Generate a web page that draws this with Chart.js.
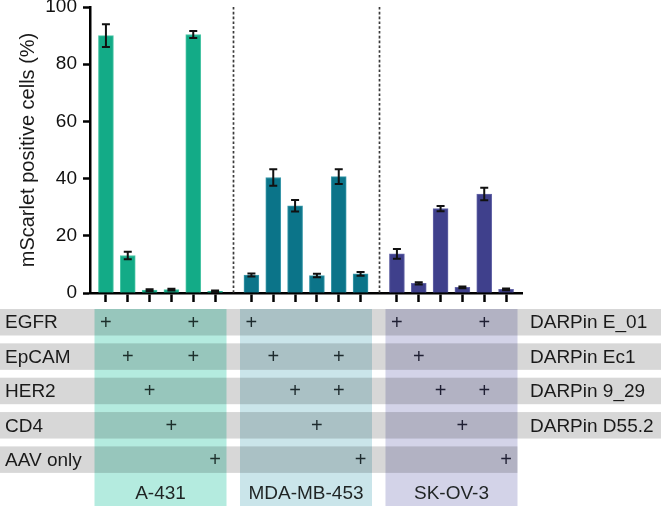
<!DOCTYPE html>
<html><head><meta charset="utf-8">
<script src="https://cdn.jsdelivr.net/npm/chart.js@4.4.1/dist/chart.umd.min.js"></script>
<style>html,body{margin:0;padding:0;background:#fff}#wrap{width:661px;height:506px;position:relative}</style>
</head><body><div id="wrap"><canvas id="c" width="661" height="506"></canvas></div>
<script>
// ---- data ----
const cellLines = ['A-431', 'MDA-MB-453', 'SK-OV-3'];
const targetLabels = ['EGFR', 'EpCAM', 'HER2', 'CD4', 'AAV only'];
const darpinLabels = ['DARPin E_01', 'DARPin Ec1', 'DARPin 9_29', 'DARPin D55.2'];
const yTicks = [0, 20, 40, 60, 80, 100];
const valuesA431 = [90.0, 13.1, 1.0, 1.2, 90.4, 0.6];
const errorsA431 = [4.0, 1.3, 0.3, 0.3, 1.2, 0.3];
const valuesMDA = [6.3, 40.4, 30.5, 6.1, 40.7, 6.7];
const errorsMDA = [0.5, 2.9, 2.0, 0.6, 2.6, 0.65];
const valuesSKOV = [13.7, 3.4, 29.5, 2.0, 34.6, 1.3];
const errorsSKOV = [1.7, 0.4, 0.9, 0.3, 2.2, 0.3];
// rows: EGFR, EpCAM, HER2, CD4, AAV only ; columns: the 6 bars of the group
const plusA431 = [[1,0,0,0,1,0],[0,1,0,0,1,0],[0,0,1,0,0,0],[0,0,0,1,0,0],[0,0,0,0,0,1]];
const plusMDA  = [[1,0,0,0,0,0],[0,1,0,0,1,0],[0,0,1,0,1,0],[0,0,0,1,0,0],[0,0,0,0,0,1]];
const plusSKOV = [[1,0,0,0,1,0],[0,1,0,0,0,0],[0,0,1,0,1,0],[0,0,0,1,0,0],[0,0,0,0,0,1]];

// ---- styling / layout ----
const STRIDE = 6.665;      // group offset in bar-slot units
const FONT = 'Liberation Sans, Arial, sans-serif';
const groups = [
  {values: valuesA431, errors: errorsA431, plus: plusA431, color: '#13ab87', border: '#4cc6a6', box: '#b4ebdf', plusColor: '#1d2f2b'},
  {values: valuesMDA,  errors: errorsMDA,  plus: plusMDA,  color: '#0b7489', border: '#3d9aab', box: '#cae5ea', plusColor: '#1d2a2d'},
  {values: valuesSKOV, errors: errorsSKOV, plus: plusSKOV, color: '#3f408c', border: '#6667a8', box: '#d3d3e8', plusColor: '#1f1f33'}
];
const positions = [];
groups.forEach((g, gi) => g.values.forEach((v, i) => positions.push(gi * STRIDE + i)));

const datasets = groups.map((g, gi) => ({
  label: cellLines[gi],
  data: g.values.map((v, i) => ({x: gi * STRIDE + i, y: v})),
  backgroundColor: g.color,
  borderColor: g.border,
  borderWidth: 1,
  barThickness: 15,
  grouped: false
}));

const ROW_TOP = 309, ROW_STEP = 34.35, ROW_H = 26.5;

const extras = {
  id: 'extras',
  beforeDraw(chart) {
    const {ctx} = chart;
    const xs = chart.scales.x;
    const W = chart.width;
    ctx.save();
    groups.forEach((g, gi) => {
      const c = xs.getPixelForValue(gi * STRIDE + 2.5);
      ctx.fillStyle = g.box;
      ctx.fillRect(c - 66, ROW_TOP, 132, chart.height - ROW_TOP);
    });
    const lastBoxRight = xs.getPixelForValue(2 * STRIDE + 2.5) + 66;
    ctx.fillStyle = 'rgba(0,0,0,0.155)';
    targetLabels.forEach((t, r) => {
      const y = ROW_TOP + r * ROW_STEP;
      const right = r < darpinLabels.length ? W : lastBoxRight;
      ctx.fillRect(0, y, right, ROW_H);
    });
    ctx.restore();
  },
  afterDatasetsDraw(chart) {
    const {ctx, chartArea} = chart;
    const xs = chart.scales.x, ys = chart.scales.y;
    ctx.save();
    ctx.strokeStyle = '#3a3a3a';
    ctx.lineWidth = 1.7;
    ctx.setLineDash([2.6, 2.2]);
    for (let gi = 0; gi < groups.length - 1; gi++) {
      const x = Math.round(xs.getPixelForValue((gi * STRIDE + 5 + (gi + 1) * STRIDE) / 2)) + 0.5;
      ctx.beginPath();
      ctx.moveTo(x, chartArea.top);
      ctx.lineTo(x, chartArea.bottom);
      ctx.stroke();
    }
    ctx.setLineDash([]);
    ctx.strokeStyle = '#111';
    ctx.lineWidth = 2;
    groups.forEach((g, gi) => {
      g.values.forEach((v, i) => {
        const x = xs.getPixelForValue(gi * STRIDE + i);
        const yt = ys.getPixelForValue(v + g.errors[i]);
        const yb = ys.getPixelForValue(Math.max(0, v - g.errors[i]));
        ctx.beginPath();
        ctx.moveTo(x, yt); ctx.lineTo(x, yb);
        ctx.moveTo(x - 4, yt); ctx.lineTo(x + 4, yt);
        ctx.moveTo(x - 4, yb); ctx.lineTo(x + 4, yb);
        ctx.stroke();
      });
    });
    ctx.restore();
  },
  afterDraw(chart) {
    const {ctx} = chart;
    const xs = chart.scales.x;
    ctx.save();
    ctx.font = '19px ' + FONT;
    ctx.textBaseline = 'middle';
    ctx.fillStyle = '#1a1a1a';
    ctx.textAlign = 'left';
    targetLabels.forEach((t, r) => {
      ctx.fillText(t, 5, ROW_TOP + r * ROW_STEP + ROW_H / 2 + 1);
    });
    darpinLabels.forEach((t, r) => {
      ctx.fillText(t, 530, ROW_TOP + r * ROW_STEP + ROW_H / 2 + 1);
    });
    ctx.textAlign = 'center';
    groups.forEach((g, gi) => {
      ctx.fillStyle = g.plusColor;
      ctx.font = '20px ' + FONT;
      g.plus.forEach((row, r) => row.forEach((p, i) => {
        if (p) ctx.fillText('+', xs.getPixelForValue(gi * STRIDE + i), ROW_TOP + r * ROW_STEP + ROW_H / 2 + 1);
      }));
      ctx.font = '19px ' + FONT;
      ctx.fillStyle = '#1f2424';
      ctx.fillText(cellLines[gi], xs.getPixelForValue(gi * STRIDE + 2.5), 494);
    });
    ctx.restore();
  }
};

new Chart(document.getElementById('c'), {
  type: 'bar',
  data: {datasets},
  options: {
    responsive: false,
    animation: false,
    events: [],
    layout: {padding: {left: 0, top: 7, right: 139, bottom: 203}},
    plugins: {legend: {display: false}, tooltip: {enabled: false}},
    scales: {
      x: {
        type: 'linear',
        offset: false,
        min: -0.73,
        max: 2 * STRIDE + 5 + 0.73,
        afterBuildTicks(scale) { scale.ticks = positions.map(v => ({value: v})); },
        afterFit(scale) { scale.height = 10; scale.paddingLeft = 0; scale.paddingRight = 0; },
        ticks: {display: false},
        grid: {display: true, offset: false, drawOnChartArea: false, drawTicks: true, tickLength: 9, tickColor: '#000', tickWidth: 2.5},
        border: {display: true, color: '#000', width: 2.5}
      },
      y: {
        min: 0, max: 100,
        afterBuildTicks(scale) { scale.ticks = yTicks.map(v => ({value: v})); },
        afterFit(scale) { scale.width = 90; scale.paddingTop = 0; scale.paddingBottom = 0; },
        ticks: {color: '#111', font: {family: FONT, size: 19}, padding: 6},
        grid: {display: true, drawOnChartArea: false, drawTicks: true, tickLength: 7, tickColor: '#000', tickWidth: 2.5},
        border: {display: true, color: '#000', width: 2.5},
        title: {display: true, text: 'mScarlet positive cells (%)', color: '#1a1a1a', font: {family: FONT, size: 20}, padding: {top: 16, bottom: 0}}
      }
    }
  },
  plugins: [extras]
});
</script></body></html>
